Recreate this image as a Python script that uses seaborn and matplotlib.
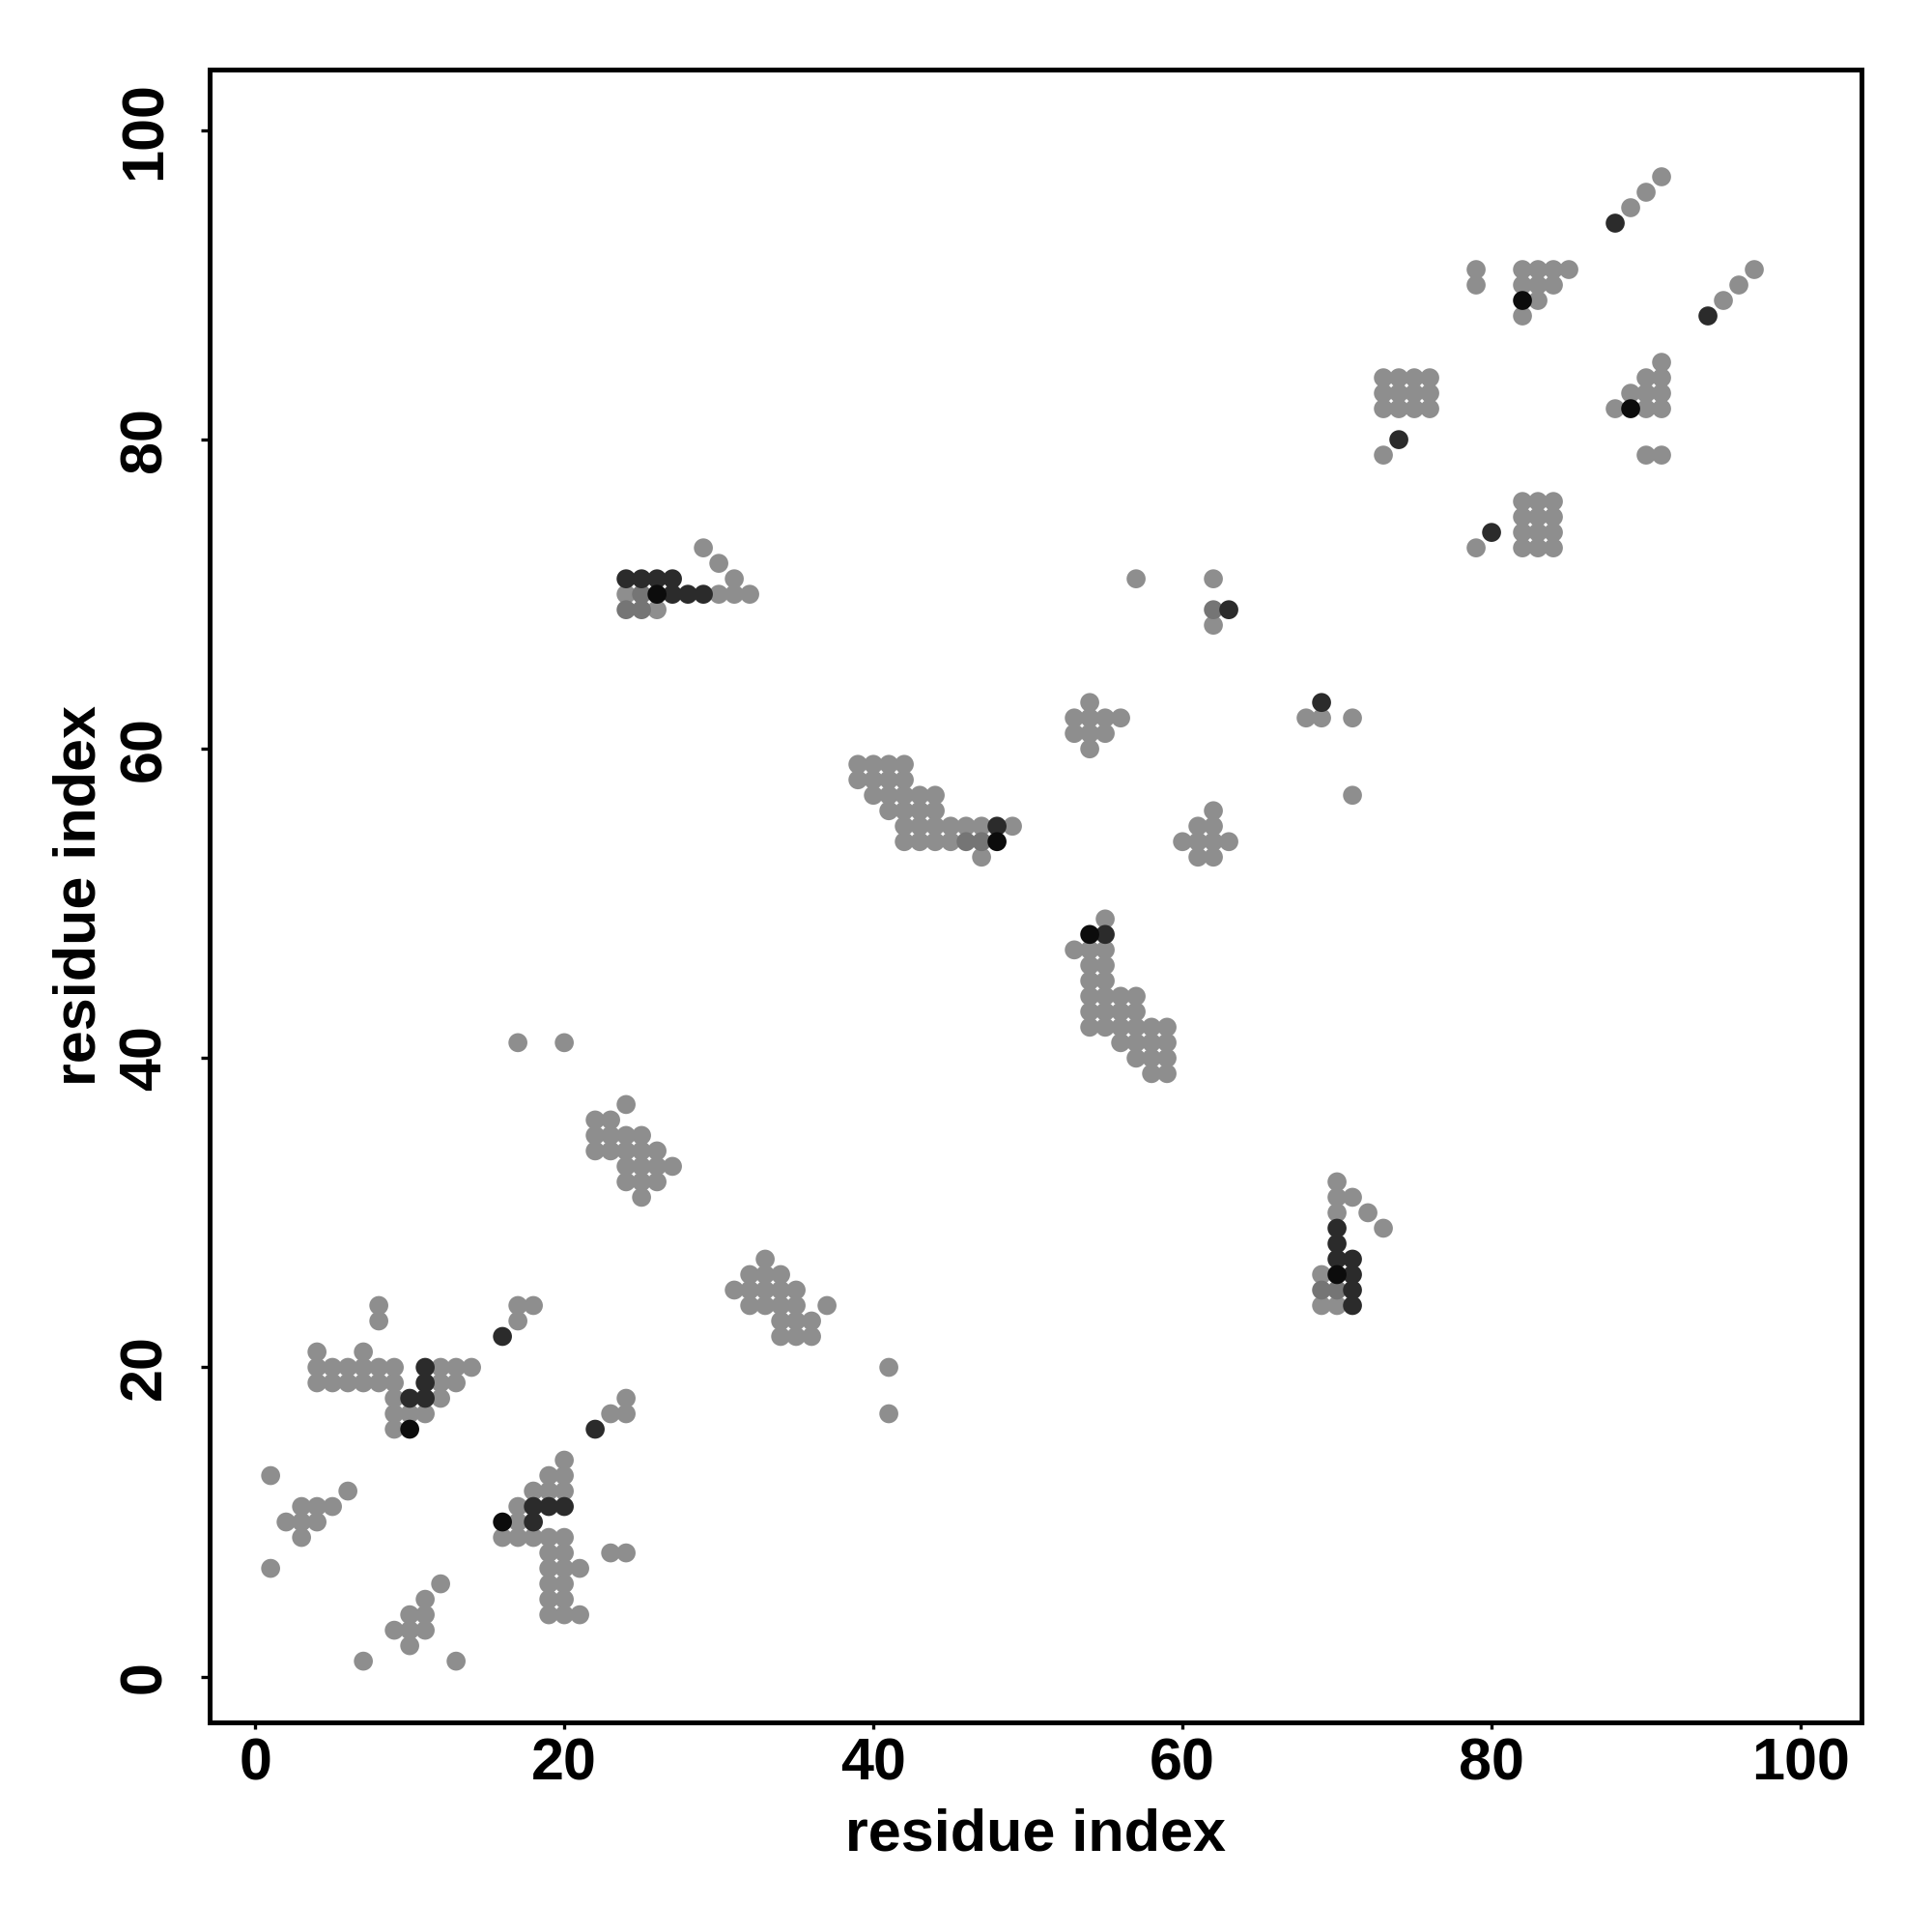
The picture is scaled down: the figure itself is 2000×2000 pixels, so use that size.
import pandas as pd
import matplotlib
matplotlib.use("Agg")
import matplotlib.pyplot as plt
import seaborn as sns

# contact pairs (residue i, residue j), grouped by shade
gray_x = [8, 8, 17, 18, 17, 4, 7,
          4, 5, 6, 7, 8, 9, 12, 13, 14,
          4, 5, 6, 7, 8, 9, 12, 13,
          9, 12, 9, 10, 11, 9,
          24, 23, 24,
          1, 6, 3, 4, 5, 2, 3, 4, 3, 1,
          20, 19, 20, 18, 19, 20, 17, 17,
          16, 17, 18, 19, 20, 19, 20, 23, 24,
          19, 20, 21, 19, 20, 19, 20, 19, 20, 21,
          12, 11, 10, 11, 9, 10, 11, 10, 7, 13,
          17, 20, 24, 22, 23, 22, 23, 24, 25, 22, 23, 24, 25, 26,
          24, 25, 26, 27, 24, 25, 26, 25,
          33, 32, 33, 34, 31, 32, 33, 34, 35, 32, 33, 34, 35, 37,
          34, 35, 36, 34, 35, 36, 41, 41,
          29, 30, 31, 24, 30, 31, 32, 26,
          39, 40, 41, 42, 39, 40, 41, 42, 40, 41, 42, 43, 44,
          41, 42, 43, 44, 42, 43, 44, 45, 46, 47, 49, 42, 43, 44, 45, 47,
          55, 53, 54, 55, 54, 55, 54, 55, 54, 55, 56, 57, 54, 55, 56, 57,
          54, 55, 56, 57, 58, 59, 56, 57, 58, 59, 57, 58, 59, 58, 59,
          57, 62, 62, 54, 53, 54, 55, 56, 53, 54, 55, 54,
          62, 61, 62, 60, 61, 62, 63, 61, 62,
          70, 70, 71, 72, 70, 73, 69, 69, 70,
          68, 69, 71, 71,
          79, 79, 82, 83, 84, 85, 82, 83, 84, 83, 82,
          73, 74, 75, 76, 73, 74, 75, 76, 73, 74, 75, 76, 73,
          82, 83, 84, 82, 83, 84, 82, 83, 84, 82, 83, 84, 79,
          91, 90, 89, 97, 96, 95, 91, 90, 91, 89, 90, 91, 88, 90, 91, 90, 91]
gray_y = [24, 23, 24, 24, 23, 21, 21,
          20, 20, 20, 20, 20, 20, 20, 20, 20,
          19, 19, 19, 19, 19, 19, 19, 19,
          18, 18, 17, 17, 17, 16,
          18, 17, 17,
          13, 12, 11, 11, 11, 10, 10, 10, 9, 7,
          14, 13, 13, 12, 12, 12, 11, 10,
          9, 9, 9, 9, 9, 8, 8, 8, 8,
          7, 7, 7, 6, 6, 5, 5, 4, 4, 4,
          6, 5, 4, 4, 3, 3, 3, 2, 1, 1,
          41, 41, 37, 36, 36, 35, 35, 35, 35, 34, 34, 34, 34, 34,
          33, 33, 33, 33, 32, 32, 32, 31,
          27, 26, 26, 26, 25, 25, 25, 25, 25, 24, 24, 24, 24, 24,
          23, 23, 23, 22, 22, 22, 20, 17,
          73, 72, 71, 70, 70, 70, 70, 69,
          59, 59, 59, 59, 58, 58, 58, 58, 57, 57, 57, 57, 57,
          56, 56, 56, 56, 55, 55, 55, 55, 55, 55, 55, 54, 54, 54, 54, 53,
          49, 47, 47, 47, 46, 46, 45, 45, 44, 44, 44, 44, 43, 43, 43, 43,
          42, 42, 42, 42, 42, 42, 41, 41, 41, 41, 40, 40, 40, 39, 39,
          71, 71, 68, 63, 62, 62, 62, 62, 61, 61, 61, 60,
          56, 55, 55, 54, 54, 54, 54, 53, 53,
          32, 31, 31, 30, 30, 29, 26, 24, 24,
          62, 62, 62, 57,
          91, 90, 91, 91, 91, 91, 90, 90, 90, 89, 88,
          84, 84, 84, 84, 83, 83, 83, 83, 82, 82, 82, 82, 79,
          76, 76, 76, 75, 75, 75, 74, 74, 74, 73, 73, 73, 73,
          97, 96, 95, 91, 90, 89, 85, 84, 84, 83, 83, 83, 82, 82, 82, 79, 79]

mid_x = [25, 24, 25, 46, 47, 62, 69, 70]
mid_y = [70, 69, 69, 54, 54, 69, 25, 25]

dark_x = [11, 11, 10, 11, 16, 22, 18, 19, 20, 18,
          24, 25, 26, 27, 27, 28, 29,
          48, 55, 63, 69,
          70, 70, 70, 71, 71, 71, 71,
          74, 80, 88, 94]
dark_y = [20, 19, 18, 18, 22, 16, 11, 11, 11, 10,
          71, 71, 71, 71, 70, 70, 70,
          55, 48, 69, 63,
          29, 28, 27, 27, 26, 25, 24,
          80, 74, 94, 88]

black_x = [10, 16, 26, 48, 54, 70, 82, 89]
black_y = [16, 10, 70, 54, 48, 26, 89, 82]

shades = {"gray": "#8e8e8e", "mid": "#757575", "dark": "#2b2b2b", "black": "#0c0c0c"}

df = pd.concat([
    pd.DataFrame({"i": gray_x, "j": gray_y, "level": "gray"}),
    pd.DataFrame({"i": mid_x, "j": mid_y, "level": "mid"}),
    pd.DataFrame({"i": dark_x, "j": dark_y, "level": "dark"}),
    pd.DataFrame({"i": black_x, "j": black_y, "level": "black"}),
], ignore_index=True)

sns.set_style("white")
plt.rcParams["font.family"] = ["Liberation Sans", "DejaVu Sans"]
plt.rcParams["font.weight"] = "bold"
plt.rcParams["text.color"] = "black"
plt.rcParams["axes.labelcolor"] = "black"
plt.rcParams["xtick.color"] = "black"
plt.rcParams["ytick.color"] = "black"

fig = plt.figure(figsize=(10, 10), dpi=200)
ax = fig.add_axes([0.1084, 0.1085, 0.8553, 0.8557])

sns.scatterplot(data=df, x="i", y="j", hue="level", palette=shades,
                s=50, linewidth=0, edgecolor="none", legend=False, ax=ax)

ax.set_xlim(-2.96, 103.96)
ax.set_ylim(-2.96, 103.96)
ticks = [0, 20, 40, 60, 80, 100]
ax.set_xticks(ticks)
ax.set_yticks(ticks)
ax.set_xticklabels([str(t) for t in ticks], fontsize=22, fontweight="bold")
ax.set_yticklabels([str(t) for t in ticks], fontsize=22, fontweight="bold",
                   rotation=90, va="center")

ax.tick_params(axis="x", direction="out", length=2.5, width=1.2, pad=3, bottom=True)
ax.tick_params(axis="y", direction="out", length=3.4, width=1.2, pad=10, left=True)

for sp in ax.spines.values():
    sp.set_visible(True)
    sp.set_color("black")
    sp.set_linewidth(1.8)

ax.set_xlabel("residue index", fontsize=22, fontweight="bold", labelpad=6)
ax.set_ylabel("residue index", fontsize=22, fontweight="bold", labelpad=4)

plt.savefig("out.png", dpi=200, facecolor="white")
